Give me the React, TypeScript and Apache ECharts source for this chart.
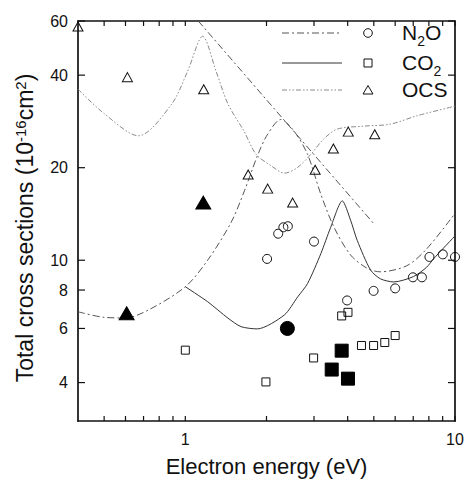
import React, { useEffect, useRef } from 'react';
import * as echarts from 'echarts';

// Axis ticks / labels (real values; the axes are logarithmic)
const xTickValues = [0.5, 0.6, 0.7, 0.8, 0.9, 1, 2, 3, 4, 5, 6, 7, 8, 9, 10];
const xLabelValues = [1, 10];
const yTickValues = [4, 6, 8, 10, 20, 40, 60];
const xRange = [0.4, 10];
const yRange = [3, 60];

// Measured points [energy eV, cross section 1e-16 cm2]
const n2oOpen = [[2.01, 10.1], [2.21, 12.2], [2.31, 12.8], [2.4, 12.9], [3.0, 11.5], [3.98, 7.4], [4.99, 7.95], [6.0, 8.1], [6.98, 8.8], [7.54, 8.8], [8.04, 10.25], [9.01, 10.45], [10, 10.25]];
const n2oFilled = [[2.39, 6.0]];
const co2Open = [[1.0, 5.1], [1.99, 4.02], [2.99, 4.81], [3.8, 6.59], [4.01, 6.77], [4.5, 5.28], [4.99, 5.28], [5.49, 5.4], [6.0, 5.69]];
const co2Filled = [[3.49, 4.41], [3.8, 5.08], [4.01, 4.12]];
const ocsOpen = [[0.4, 57.6], [0.61, 39.4], [1.17, 36], [1.71, 19], [2.02, 17.1], [2.5, 15.4], [3.03, 19.7], [3.54, 23.1], [4.02, 26.2], [5.04, 25.7]];
const ocsFilled = [[0.606, 6.72], [1.166, 15.4]];

// Curves
const n2oCurve = [[0.4, 6.8], [0.5, 6.52], [0.6, 6.49], [0.73, 6.89], [1.0, 8.2], [1.21, 10.0], [1.48, 13.3], [1.66, 16.9], [1.86, 22.1], [2.02, 25.7], [2.26, 28.7], [2.53, 26.3], [2.84, 22.1], [3.18, 16.4], [3.56, 12.8], [4.1, 10.4], [4.72, 9.42], [5.28, 9.17], [6.63, 9.6], [7.86, 10.9], [10, 14.2]];
const n2oLine2 = [[1.117, 60], [4.98, 13.2]];
const co2Curve = [[1.0, 8.2], [1.21, 7.33], [1.44, 6.48], [1.61, 6.08], [1.85, 5.98], [2.33, 6.64], [2.61, 7.6], [2.84, 8.4], [3.18, 10.5], [3.46, 12.8], [3.82, 15.6], [4.1, 13.5], [4.34, 11.6], [4.86, 9.3], [5.29, 8.7], [5.93, 8.5], [7.02, 8.85], [7.86, 9.5], [8.32, 10.1], [10, 12.0]];
const ocsCurve = [[0.4, 36], [0.5, 30], [0.67, 25.4], [0.89, 32.2], [1.02, 41.2], [1.16, 53.5], [1.3, 41.2], [1.44, 32.2], [1.65, 26.3], [1.83, 22.1], [2.08, 20.3], [2.33, 19.2], [2.6, 20.0], [2.92, 22.1], [3.26, 24.8], [3.66, 26.7], [4.59, 27.3], [5.75, 27.7], [7.22, 29.5], [10, 31.7]];

const INK = '#111';
const FONT = '"Liberation Sans", Arial, Helvetica, sans-serif';
const N2O_DASH = [7, 3, 2, 3];
const OCS_DASH = [5, 2, 1.5, 2, 1.5, 2];

const lg = (v: number) => Math.log10(v);
const toLog = (pts: number[][]) => pts.map(([x, y]) => [lg(x), lg(y)]);
const fmt = (v: number) => String(Math.round(Math.pow(10, v)));

export default function App() {
  const ref = useRef<HTMLDivElement>(null);
  useEffect(() => {
    if (!ref.current) return;
    const chart = echarts.init(ref.current, null, { renderer: 'svg' });
    const X0 = lg(xRange[0]);
    const X1 = lg(xRange[1]);
    const Y0 = lg(yRange[0]);
    const Y1 = lg(yRange[1]);
    const xAxisBase = {
      type: 'value',
      min: X0,
      max: X1,
      splitLine: { show: false },
      axisLine: { show: true, onZero: false, lineStyle: { color: INK, width: 1.7 } },
      axisTick: { show: false },
    };
    const yAxisBase = {
      type: 'value',
      min: Y0,
      max: Y1,
      splitLine: { show: false },
      axisLine: { show: true, onZero: false, lineStyle: { color: INK, width: 1.7 } },
      axisTick: { show: false },
    };
    const lineSeries = (name: string, data: number[][], color: string, type: any, smooth = 0.3) => ({
      name,
      type: 'line',
      data: toLog(data),
      smooth,
      symbol: 'none',
      silent: true,
      lineStyle: { color, width: 1, type },
      z: 2,
    });
    const scatter = (name: string, data: number[][], symbol: string, size: any, filled: boolean) => ({
      name,
      type: 'scatter',
      data: toLog(data),
      symbol,
      symbolSize: size,
      clip: false,
      itemStyle: filled
        ? { color: '#000', borderColor: '#000', borderWidth: 1, opacity: 1 }
        : { color: 'rgba(255,255,255,0)', borderColor: INK, borderWidth: 1, opacity: 1 },
      z: 5,
    });
    // inward tick marks on the four sides, thin rect symbols placed through the axes
    const tickMarks = (name: string, data: number[][], size: number[], offset: number[]) => ({
      name,
      type: 'scatter',
      data,
      symbol: 'rect',
      symbolSize: size,
      symbolOffset: offset,
      clip: false,
      silent: true,
      itemStyle: { color: INK, opacity: 1, borderWidth: 0 },
      z: 6,
    });
    const txt = {
      a: { fontSize: 21, lineHeight: 21, verticalAlign: 'top', fontFamily: FONT, color: INK },
      s: { fontSize: 14, lineHeight: 12, verticalAlign: 'top', padding: [12, 0, 0, 0], fontFamily: FONT, color: INK },
    };
    const legendRow = (y: number, label: string, color: string, dash: any, marker: any) => [
      { type: 'line', shape: { x1: 282, y1: y, x2: 342, y2: y }, style: { stroke: color, lineWidth: 1, lineDash: dash } },
      marker,
      { type: 'text', x: 402, y: y - 11, style: { text: label, rich: txt, fill: INK } },
    ];
    chart.setOption({
      animation: false,
      backgroundColor: '#fff',
      textStyle: { fontFamily: FONT },
      grid: { show: false, left: 78, top: 21, right: 9, bottom: 60, containLabel: false, outerBoundsMode: 'none' },
      xAxis: [
        {
          ...xAxisBase,
          position: 'bottom',
          axisLabel: { show: true, customValues: xLabelValues.map(lg), margin: 10, fontSize: 16, color: INK, fontFamily: FONT, formatter: fmt },
          name: 'Electron energy (eV)',
          nameLocation: 'middle',
          nameGap: 34,
          nameTextStyle: { fontSize: 22, color: INK, fontFamily: FONT },
        },
        { ...xAxisBase, position: 'top', axisLabel: { show: false } },
      ],
      yAxis: [
        {
          ...yAxisBase,
          position: 'left',
          axisLabel: { show: true, customValues: yTickValues.map(lg), margin: 10, fontSize: 16, color: INK, fontFamily: FONT, formatter: fmt },
          name: '{a|Total cross sections (10}{b|-16}{a|cm}{b|2}{a|)}',
          nameLocation: 'middle',
          nameGap: 42,
          nameTextStyle: {
            fontSize: 23,
            color: INK,
            fontFamily: FONT,
            padding: [0, 14, 0, 0],
            rich: {
              a: { fontSize: 23, lineHeight: 23, verticalAlign: 'top', fontFamily: FONT, color: INK },
              b: { fontSize: 15, lineHeight: 15, verticalAlign: 'top', fontFamily: FONT, color: INK },
            },
          },
        },
        { ...yAxisBase, position: 'right', axisLabel: { show: false } },
      ],
      series: [
        lineSeries('OCS theory', ocsCurve, '#8a8a8a', OCS_DASH),
        lineSeries('N2O theory', n2oCurve, '#555', N2O_DASH),
        lineSeries('N2O theory 2', n2oLine2, '#555', N2O_DASH, 0),
        lineSeries('CO2 theory', co2Curve, '#333', 'solid', 0.25),
        scatter('N2O', n2oOpen, 'circle', 9, false),
        scatter('N2O filled', n2oFilled, 'circle', 14, true),
        scatter('CO2', co2Open, 'rect', 8, false),
        scatter('CO2 filled', co2Filled, 'rect', 13, true),
        scatter('OCS', ocsOpen, 'triangle', [10, 9], false),
        scatter('OCS filled', ocsFilled, 'triangle', [15, 13], true),
        tickMarks('ticks bottom', xTickValues.map((v) => [lg(v), Y0]), [1.2, 5], [0, -2.5]),
        tickMarks('ticks top', xTickValues.map((v) => [lg(v), Y1]), [1.2, 5], [0, 2.5]),
        tickMarks('ticks left', yTickValues.map((v) => [X0, lg(v)]), [7, 1.2], [3.5, 0]),
        tickMarks('ticks right', yTickValues.map((v) => [X1, lg(v)]), [7, 1.2], [-3.5, 0]),
      ],
      graphic: [
        ...legendRow(33, '{a|N}{s|2}{a|O}', '#555', N2O_DASH, { type: 'circle', shape: { cx: 368, cy: 33, r: 4.3 }, style: { fill: 'none', stroke: INK, lineWidth: 1 } }),
        ...legendRow(63, '{a|CO}{s|2}', '#333', null, { type: 'rect', shape: { x: 364, y: 59, width: 8, height: 8 }, style: { fill: 'none', stroke: INK, lineWidth: 1 } }),
        ...legendRow(90, '{a|OCS}', '#8a8a8a', OCS_DASH, { type: 'polygon', shape: { points: [[368, 85.5], [373, 94], [363, 94]] }, style: { fill: 'none', stroke: INK, lineWidth: 1 } }),
      ],
    });
    return () => chart.dispose();
  }, []);
  return <div ref={ref} style={{ position: 'fixed', left: 0, top: 0, width: 464, height: 481, background: '#fff' }} />;
}
